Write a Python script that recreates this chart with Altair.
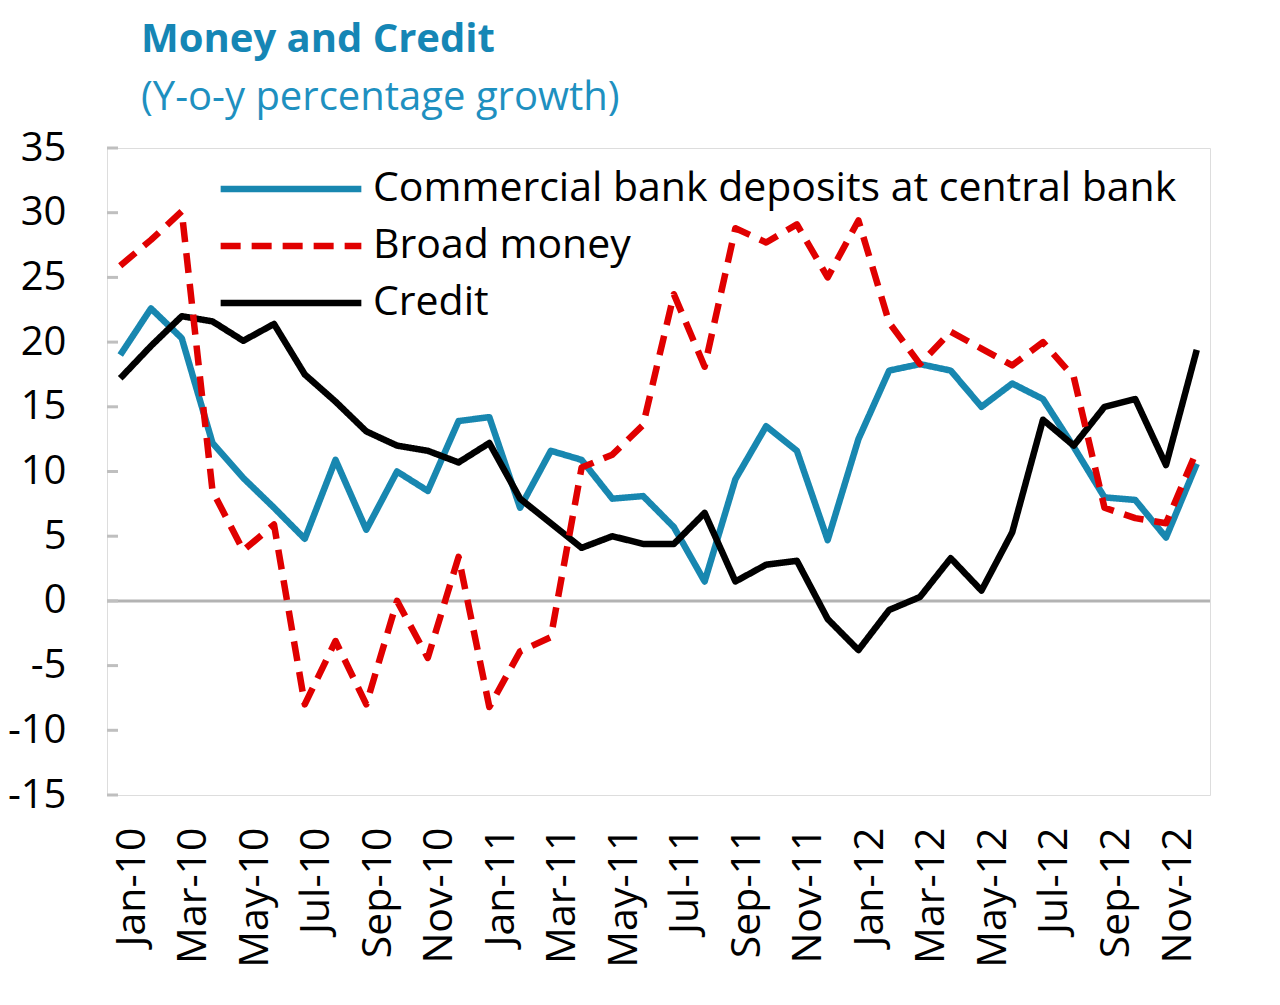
import altair as alt
import pandas as pd

months = [
    "Jan-10", "Feb-10", "Mar-10", "Apr-10", "May-10", "Jun-10", "Jul-10", "Aug-10", "Sep-10", "Oct-10", "Nov-10", "Dec-10",
    "Jan-11", "Feb-11", "Mar-11", "Apr-11", "May-11", "Jun-11", "Jul-11", "Aug-11", "Sep-11", "Oct-11", "Nov-11", "Dec-11",
    "Jan-12", "Feb-12", "Mar-12", "Apr-12", "May-12", "Jun-12", "Jul-12", "Aug-12", "Sep-12", "Oct-12", "Nov-12", "Dec-12",
]

deposits = [19.0, 22.6, 20.3, 12.2, 9.5, 7.2, 4.8, 10.9, 5.5, 10.0, 8.5, 13.9,
            14.2, 7.2, 11.6, 10.9, 7.9, 8.1, 5.7, 1.5, 9.4, 13.5, 11.6, 4.7,
            12.5, 17.8, 18.3, 17.8, 15.0, 16.8, 15.6, 11.9, 8.0, 7.8, 4.9, 10.6]

broad_money = [25.9, 27.9, 30.1, 8.5, 3.9, 5.9, -8.0, -3.1, -8.0, 0.0, -4.4, 3.4,
               -8.2, -3.9, -2.8, 10.3, 11.3, 13.6, 23.7, 18.1, 28.8, 27.7, 29.1, 25.0,
               29.4, 21.5, 18.3, 20.8, 19.5, 18.2, 20.0, 17.3, 7.2, 6.4, 6.0, 11.6]

credit = [17.2, 19.7, 22.0, 21.6, 20.1, 21.4, 17.5, 15.4, 13.1, 12.0, 11.6, 10.7,
          12.2, 7.9, 6.0, 4.1, 5.0, 4.4, 4.4, 6.8, 1.5, 2.8, 3.1, -1.4,
          -3.8, -0.7, 0.3, 3.3, 0.8, 5.3, 14.0, 12.0, 15.0, 15.6, 10.5, 19.4]

series_names = ["Commercial bank deposits at central bank", "Broad money", "Credit"]
series_colors = ["#1887b0", "#e00000", "#000000"]
series_dashes = [[1, 0], [20, 11], [1, 0]]
y_ticks = [-15, -10, -5, 0, 5, 10, 15, 20, 25, 30, 35]
zero_line = [0]

# drawing order: deposits, credit, then broad money on top
series_values = [deposits, broad_money, credit]
draw_order = [0, 2, 1]

rows = []
for k in draw_order:
    for m, v in zip(months, series_values[k]):
        rows.append({"month": m, "series": series_names[k], "value": v})
df = pd.DataFrame(rows)

FONT = "Open Sans"

y_scale = alt.Scale(domain=[-15, 35], nice=False, zero=False)

y_axis = alt.Axis(
    values=y_ticks,
    labelExpr="'' + datum.value",
    labelFont=FONT,
    labelFontSize=40,
    labelColor="#000000",
    labelPadding=41,
    ticks=False,
    domain=False,
    grid=False,
)

# long horizontal line used as legend symbol (scaled by sqrt(symbolSize)/2)
legend = alt.Legend(
    title=None,
    orient="none",
    legendX=147,
    legendY=4,
    padding=0,
    symbolType="M-2.1,0H2.1",
    symbolSize=4489,
    symbolStrokeWidth=6.5,
    labelFont=FONT,
    labelFontSize=41,
    labelColor="#000000",
    labelLimit=1000,
    labelOffset=45,
    rowPadding=0,
)

lines = alt.Chart(df).mark_line(strokeWidth=6.5, strokeJoin="round").encode(
    x=alt.X(
        "month:N",
        sort=months,
        scale=alt.Scale(type="point", padding=0.43),
        title=None,
        axis=alt.Axis(
            values=months[::2],
            labelAngle=270,
            labelFont=FONT,
            labelFontSize=41,
            labelColor="#000000",
            labelPadding=32,
            labelOffset=12,
            ticks=False,
            domain=False,
            grid=False,
        ),
    ),
    y=alt.Y("value:Q", scale=y_scale, title=None, axis=y_axis),
    color=alt.Color(
        "series:N",
        scale=alt.Scale(domain=series_names, range=series_colors),
        legend=legend,
    ),
    strokeDash=alt.StrokeDash(
        "series:N",
        scale=alt.Scale(domain=series_names, range=series_dashes),
        legend=legend,
    ),
)

zero = alt.Chart(pd.DataFrame({"value": zero_line})).mark_rule(
    color="#b3b3b3", strokeWidth=3
).encode(y=alt.Y("value:Q", scale=y_scale, title=None, axis=y_axis))

ticks = alt.Chart(pd.DataFrame({"value": y_ticks})).mark_rule(
    color="#bfbfbf", strokeWidth=3
).encode(
    y=alt.Y("value:Q", scale=y_scale, title=None, axis=y_axis),
    x=alt.value(0),
    x2=alt.value(11),
)

chart = alt.layer(zero, ticks, lines).properties(
    width=1103,
    height=647,
    autosize=alt.AutoSizeParams(type="none"),
    padding={"left": 99, "top": 140, "right": 50, "bottom": 200},
    title=alt.TitleParams(
        text="Money and Credit",
        subtitle="(Y-o-y percentage growth)",
        anchor="start",
        frame="group",
        dx=34,
        font=FONT,
        fontSize=40,
        fontWeight="bold",
        color="#1586b5",
        subtitleFont=FONT,
        subtitleFontSize=40,
        subtitleColor="#1e90c0",
        subtitlePadding=18,
        offset=10,
    ),
).configure_view(
    stroke="#bfbfbf", strokeWidth=3
).configure(background="white")

chart.save("out.html", embed_options={"renderer": "svg", "actions": False})
